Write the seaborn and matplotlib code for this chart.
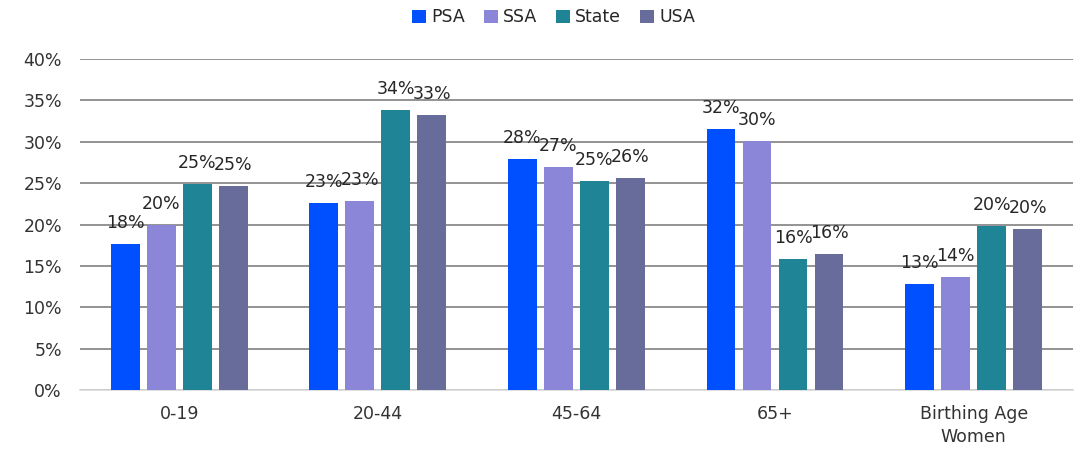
import matplotlib
matplotlib.use("Agg")
import matplotlib.pyplot as plt
import seaborn as sns
import pandas as pd

# Age-group shares by geography
categories = ["0-19", "20-44", "45-64", "65+", "Birthing Age\nWomen"]
series_names = ["PSA", "SSA", "State", "USA"]
psa = [17.7, 22.6, 27.9, 31.6, 12.8]
ssa = [20.0, 22.9, 27.0, 30.1, 13.7]
state = [24.9, 33.8, 25.3, 15.8, 19.8]
usa = [24.7, 33.2, 25.6, 16.4, 19.5]
y_ticks = [0, 5, 10, 15, 20, 25, 30, 35, 40]

colors = ["#0050FF", "#8C86D9", "#1E8496", "#676C9A"]

rows = []
for name, vals in zip(series_names, [psa, ssa, state, usa]):
    for cat, v in zip(categories, vals):
        rows.append({"Category": cat, "Series": name, "Value": v})
df = pd.DataFrame(rows)

sns.set_style("white")
plt.rcParams["font.family"] = ["DejaVu Sans"]

FS = 12.5

fig = plt.figure(figsize=(10.76, 4.49), dpi=100)
ax = fig.add_axes([0.0743, 0.1314, 0.9229, 0.7372])

sns.barplot(data=df, x="Category", y="Value", hue="Series",
            order=categories, hue_order=series_names, palette=colors,
            width=0.725, gap=0.2, saturation=1, ax=ax, zorder=3,
            edgecolor="none", err_kws={"linewidth": 0})

# value labels above each bar
for container, vals in zip(ax.containers, [psa, ssa, state, usa]):
    for patch, v in zip(container.patches, vals):
        x = patch.get_x() + patch.get_width() / 2
        ax.annotate(f"{round(v):.0f}%", (x, patch.get_height()),
                    xytext=(0, 15), textcoords="offset points",
                    ha="center", va="center", fontsize=FS, color="#262626")

ax.set_ylim(0, 40)
ax.set_xlim(-0.5, len(categories) - 0.5)
ax.set_yticks(y_ticks)
ax.set_yticklabels([f"{t}%" for t in y_ticks])
ax.yaxis.grid(True, color="#8a8a8a", linewidth=1.3, zorder=0)
ax.set_axisbelow(True)
ax.set_xlabel("")
ax.set_ylabel("")
for side in ["top", "right", "left"]:
    ax.spines[side].set_visible(False)
ax.spines["bottom"].set_color("#d9d9d9")
ax.spines["bottom"].set_linewidth(1.2)
ax.tick_params(axis="both", length=0, labelsize=FS, colors="#333333")
ax.tick_params(axis="y", pad=13)
ax.tick_params(axis="x", pad=11)
for lbl in ax.get_xticklabels():
    lbl.set_linespacing(1.35)

handles, labels = ax.get_legend_handles_labels()
ax.legend(handles, labels, loc="upper center", bbox_to_anchor=(0.477, 1.20),
          ncol=4, frameon=False, fontsize=FS, handlelength=0.8,
          handleheight=0.8, handletextpad=0.3, columnspacing=1.1)

fig.savefig("out.png", dpi=100)
